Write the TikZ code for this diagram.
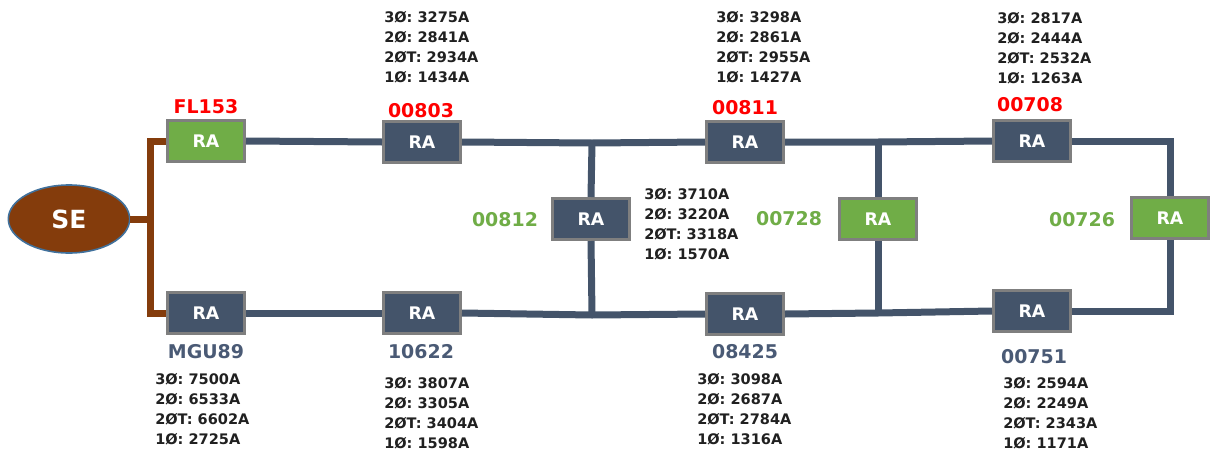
\documentclass[tikz,border=0pt]{standalone}
\usepackage{fontspec}
\setmainfont{DejaVu Sans}
\usetikzlibrary{shapes.geometric}
\definecolor{slate}{HTML}{44546A}
\definecolor{leaf}{HTML}{70AD47}
\definecolor{rust}{HTML}{843C0C}
\definecolor{rim}{HTML}{7F7F7F}
\definecolor{seblue}{HTML}{41719C}
\definecolor{ink}{HTML}{202020}
\definecolor{tagslate}{HTML}{4A5A75}
\begin{document}
\begin{tikzpicture}[x=0.75pt,y=-0.75pt,
  rabox/.style={draw=rim, line width=2pt, fill=slate, minimum width=58pt,
    minimum height=31pt, inner sep=0pt, text=white,
    font=\bfseries\fontsize{13}{15}\selectfont},
  rabox green/.style={rabox, fill=leaf},
  feeder/.style={draw=slate, line width=5.25pt},
  source/.style={draw=rust, line width=5.25pt},
  tag/.style={font=\bfseries\fontsize{14.2}{16}\selectfont, inner sep=0pt},
  readings/.style={font=\bfseries\fontsize{10.9}{15}\selectfont, text=ink,
    align=left, inner sep=0pt, anchor=north west}]
\useasboundingbox (0,0) rectangle (1210,450);

% substation
\node[ellipse, draw=seblue, line width=1.2pt, fill=rust, minimum width=91pt,
  minimum height=51pt, inner sep=0pt, text=white,
  font=\bfseries\fontsize{18.75}{20}\selectfont] (se) at (69,219) {SE};

% reclosers
\node[rabox green] (fl)  at (206,141) {RA};
\node[rabox] (mgu)       at (206,313) {RA};
\node[rabox] (a803)      at (422,142) {RA};
\node[rabox] (a622)      at (422,313) {RA};
\node[rabox] (a812)      at (591,219) {RA};
\node[rabox] (a811)      at (745,142) {RA};
\node[rabox] (a425)      at (745,314) {RA};
\node[rabox green] (a728) at (878,219) {RA};
\node[rabox] (a708)      at (1032,141) {RA};
\node[rabox] (a751)      at (1032,311) {RA};
\node[rabox green] (a726) at (1170,218) {RA};

% junctions
\coordinate (bus) at (150,219);
\coordinate (j1) at (592,143);
\coordinate (j2) at (592,315);
\coordinate (j3) at (878,142);
\coordinate (j4) at (878,313);

% connections
\begin{scope}[on background layer/.style={}]
\draw[source] (se.east) -- (bus);
\draw[source] (fl.west) -| (bus) |- (mgu.west);
\draw[feeder] (fl.east) -- (a803.west);
\draw[feeder] (a803.east) -- (j1) -- (a811.west);
\draw[feeder] (j1) -- (a812.north);
\draw[feeder] (a812.south) -- (j2);
\draw[feeder] (mgu.east) -- (a622.west);
\draw[feeder] (a622.east) -- (j2) -- (a425.west);
\draw[feeder] (a811.east) -- (j3) -- (a708.west);
\draw[feeder] (j3) -- (a728.north);
\draw[feeder] (a728.south) -- (j4);
\draw[feeder] (a425.east) -- (j4) -- (a751.west);
\draw[feeder] (a708.east) -| (a726.north);
\draw[feeder] (a726.south) |- (a751.east);
\end{scope}

% device tags
\node[tag, text=red] (t153) at (206,107) {FL153};
\node[tag, text=red] (t803) at (421,111) {00803};
\node[tag, text=red] (t811) at (745,108) {00811};
\node[tag, text=red] (t708) at (1030,105) {00708};
\node[tag, text=leaf] (t812) at (505,220) {00812};
\node[tag, text=leaf] (t728) at (789,219) {00728};
\node[tag, text=leaf] (t726) at (1082,220) {00726};
\node[tag, text=tagslate] (tmgu) at (206,352) {MGU89};
\node[tag, text=tagslate] (t622) at (421,352) {10622};
\node[tag, text=tagslate] (t425) at (745,352) {08425};
\node[tag, text=tagslate] (t751) at (1034,357) {00751};

% fault currents
\node[readings] (r803) at (384,11) {3Ø: 3275A\\2Ø: 2841A\\2ØT: 2934A\\1Ø: 1434A};
\node[readings] (r811) at (716,11) {3Ø: 3298A\\2Ø: 2861A\\2ØT: 2955A\\1Ø: 1427A};
\node[readings] (r708) at (997,12) {3Ø: 2817A\\2Ø: 2444A\\2ØT: 2532A\\1Ø: 1263A};
\node[readings] (r812) at (644,188) {3Ø: 3710A\\2Ø: 3220A\\2ØT: 3318A\\1Ø: 1570A};
\node[readings] (rmgu) at (155,373) {3Ø: 7500A\\2Ø: 6533A\\2ØT: 6602A\\1Ø: 2725A};
\node[readings] (r622) at (384,377) {3Ø: 3807A\\2Ø: 3305A\\2ØT: 3404A\\1Ø: 1598A};
\node[readings] (r425) at (697,373) {3Ø: 3098A\\2Ø: 2687A\\2ØT: 2784A\\1Ø: 1316A};
\node[readings] (r751) at (1003,377) {3Ø: 2594A\\2Ø: 2249A\\2ØT: 2343A\\1Ø: 1171A};
\end{tikzpicture}
\end{document}
